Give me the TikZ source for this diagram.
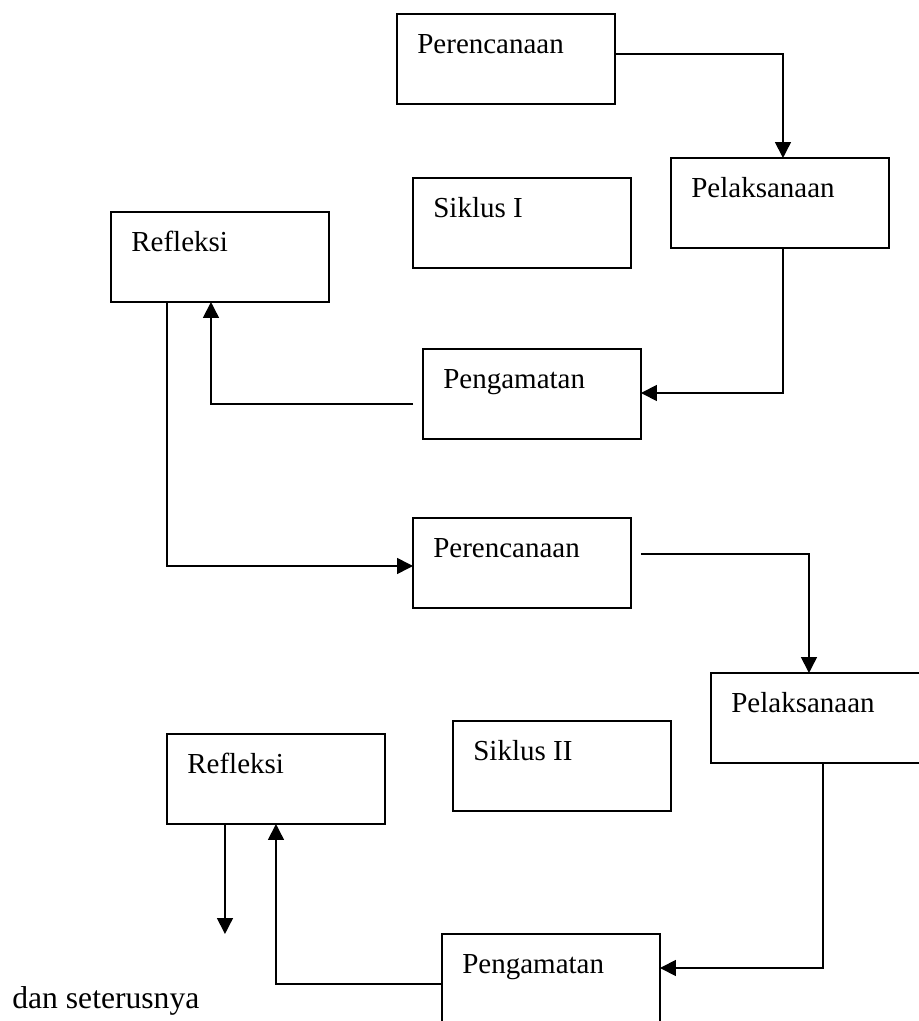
\documentclass[tikz,border=0pt]{standalone}
\usepackage{fontspec}
\setmainfont{Liberation Serif}
\usetikzlibrary{calc}
\usetikzlibrary{arrows.meta}
\tikzset{every node/.style={font=\fontsize{16.5}{20}\selectfont}}
\tikzset{
  kotak/.style={draw, line width=0.7pt, minimum width=4.36cm, minimum height=1.8cm,
                inner sep=0, outer sep=0, anchor=north west},
  teks/.style={anchor=base west, inner sep=0},
  panah/.style={line width=0.9pt, -{Triangle[length=9pt, width=9pt]}}
}

\begin{document}
\begin{tikzpicture}[x=0.02cm, y=-0.02cm]

\useasboundingbox (0,0) rectangle (919,1021);
\clip (0,0) rectangle (919,1021);

% Siklus I
\node[kotak] (per1) at (397,14)  {};
\node[kotak] (pel1) at (671,158) {};
\node[kotak] (sik1) at (413,178) {};
\node[kotak] (ref1) at (111,212) {};
\node[kotak] (pen1) at (423,349) {};

\node[teks] (per1t) at ($(per1.north west)+(20,39)$) {Perencanaan};
\node[teks] (pel1t) at ($(pel1.north west)+(20,39)$) {Pelaksanaan};
\node[teks] (sik1t) at ($(sik1.north west)+(20,39)$) {Siklus I};
\node[teks] (ref1t) at ($(ref1.north west)+(20,39)$) {Refleksi};
\node[teks] (pen1t) at ($(pen1.north west)+(20,39)$) {Pengamatan};

\draw[panah] ($(per1.east)+(0,-5)$) -| ($(pel1.north)+(3,0)$);
\draw[panah] ($(pel1.south)+(3,0)$) |- ($(pen1.east)+(0,-1)$);
\draw[panah] ($(pen1.west)+(-10,10)$) -| ($(ref1.south)+(-9,0)$);

%%%%%%%%%%%%%%%%%%%%%%%%%%%%%%%%%%%%%%%%%%%%%%%%%%%%%%%%%%%%%%%%
% Siklus II
\node[kotak] (per2) at (413,518) {};
\node[kotak] (pel2) at (711,673) {};
\node[kotak] (sik2) at (453,721) {};
\node[kotak] (ref2) at (167,734) {};
\node[kotak] (pen2) at (442,934) {};

\node[teks] (per2t) at ($(per2.north west)+(20,39)$) {Perencanaan};
\node[teks] (pel2t) at ($(pel2.north west)+(20,39)$) {Pelaksanaan};
\node[teks] (sik2t) at ($(sik2.north west)+(20,39)$) {Siklus II};
\node[teks] (ref2t) at ($(ref2.north west)+(20,39)$) {Refleksi};
\node[teks] (pen2t) at ($(pen2.north west)+(20,39)$) {Pengamatan};

\draw[panah] ($(ref1.south)+(-53,0)$) |- ($(per2.west)+(0,3)$);
\draw[panah] ($(per2.east)+(10,-9)$) -| ($(pel2.north)+(-11,0)$);
\draw[panah] ($(pel2.south)+(3,0)$) |- ($(pen2.east)+(0,-11)$);
\draw[panah] ($(pen2.west)+(0,5)$) -| (ref2.south);

\coordinate (lanjut) at ($(ref2.south)+(-51,110)$);
\draw[panah] ($(ref2.south)+(-51,0)$) -- (lanjut);

\node[teks, font=\fontsize{18}{22}\selectfont] (dst) at (12,1008) {dan seterusnya};

\end{tikzpicture}
\end{document}
